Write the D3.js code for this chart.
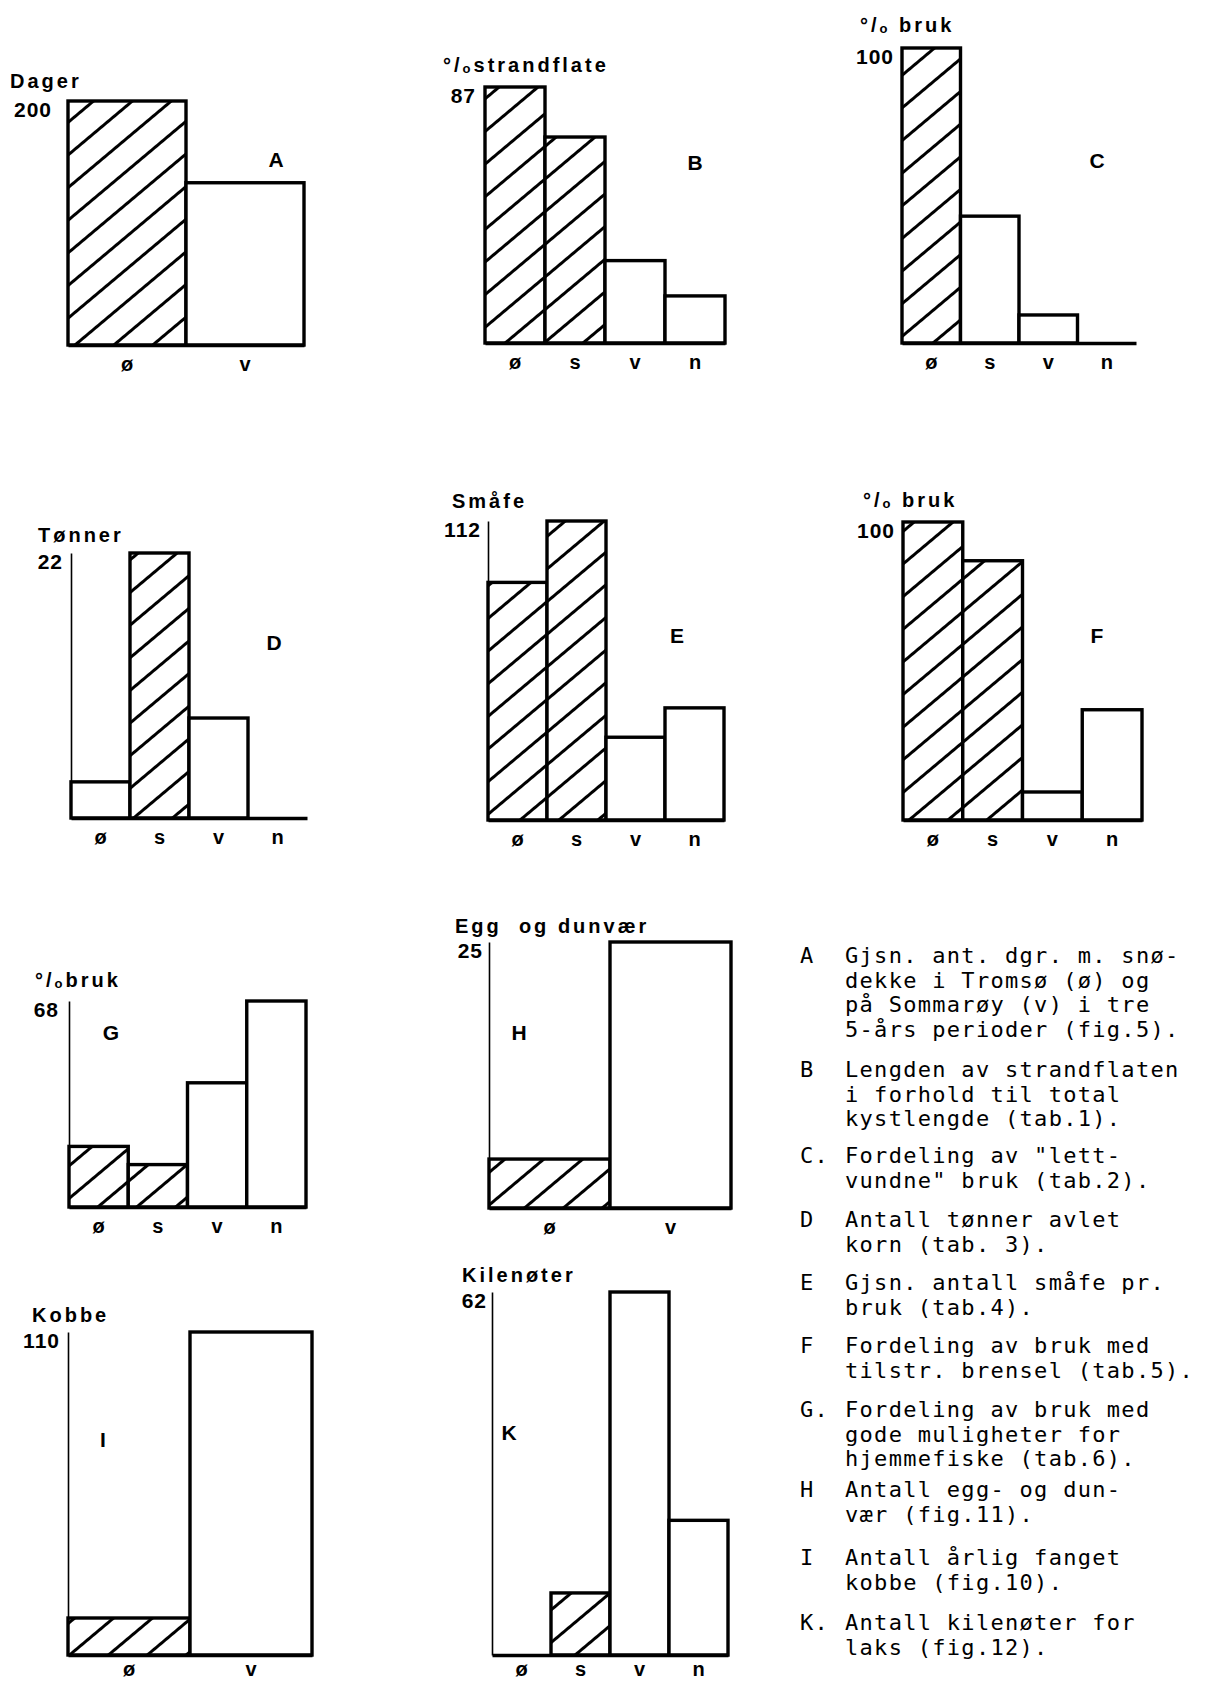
<!DOCTYPE html>
<html><head><meta charset="utf-8">
<script src="https://cdn.jsdelivr.net/npm/d3@7"></script>
<style>
body{margin:0;background:#fff;}
svg{display:block;background:#fff;}
</style></head><body>
<svg id="c" width="1208" height="1681"></svg>
<script>
// ---------- DATA ----------
const panelIds = ["A","B","C","D","E","F","G","H","I","K"];
const cats2 = ["ø","v"];
const cats4 = ["ø","s","v","n"];
const valuesA = [200, 133];
const valuesB = [87, 70, 28, 16];
const valuesC = [100, 43, 9.5, 0];
const valuesD = [3, 22, 8.3, 0];
const valuesE = [89, 112, 31, 42];
const valuesF = [100, 87, 9.4, 37];
const valuesG = [20, 14, 41, 68];
const valuesH = [4.6, 25];
const valuesI = [12.6, 110];
const valuesK = [0, 10.6, 62, 23];
const hatchA = [true, false];
const hatchB = [true, true, false, false];
const hatchC = [true, false, false, false];
const hatchD = [false, true, false, false];
const hatchE = [true, true, false, false];
const hatchF = [true, true, false, false];
const hatchG = [true, true, false, false];
const hatchH = [true, false];
const hatchI = [true, false];
const hatchK = [false, true, false, false];
const tickMax = [200, 87, 100, 22, 112, 100, 68, 25, 110, 62];
const yTitles = ["Dager", "°/ostrandflate", "°/o bruk", "Tønner", "Småfe", "°/o bruk", "°/obruk", "Egg\u00a0\u00a0og dunvær", "Kobbe", "Kilenøter"];

const captionLetters = ["A","B","C.","D","E","F","G.","H","I","K."];
const captionTexts = [
  ["Gjsn. ant. dgr. m. snø-","dekke i Tromsø (ø) og","på Sommarøy (v) i tre","5-års perioder (fig.5)."],
  ["Lengden av strandflaten","i forhold til total","kystlengde (tab.1)."],
  ["Fordeling av \"lett-","vundne\" bruk (tab.2)."],
  ["Antall tønner avlet","korn (tab. 3)."],
  ["Gjsn. antall småfe pr.","bruk (tab.4)."],
  ["Fordeling av bruk med","tilstr. brensel (tab.5)."],
  ["Fordeling av bruk med","gode muligheter for","hjemmefiske (tab.6)."],
  ["Antall egg- og dun-","vær (fig.11)."],
  ["Antall årlig fanget","kobbe (fig.10)."],
  ["Antall kilenøter for","laks (fig.12)."]
];

// ---------- LAYOUT ----------
const layout = {
  A:{x0:68,  x1:304,  top:101,  base:345,  title:[10,88],    letter:[276,167],  pad:16},
  B:{x0:485, x1:725,  top:87,   base:343,  title:[443,72],   letter:[695,170],  pad:9},
  C:{x0:902, x1:1136, top:48,   base:343,  title:[860,32],   letter:[1097,168], pad:8},
  D:{x0:71,  x1:307,  top:553,  base:818,  title:[38,542],   letter:[274,650],  pad:8},
  E:{x0:488, x1:724,  top:521,  base:820,  title:[452,508],  letter:[677,643],  pad:7},
  F:{x0:903, x1:1142, top:522,  base:820,  title:[863,507],  letter:[1097,643], pad:8},
  G:{x0:69,  x1:306,  top:1001, base:1207, title:[35,987],   letter:[111,1040], pad:10},
  H:{x0:489, x1:731,  top:942,  base:1208, title:[455,933],  letter:[519,1040], pad:6},
  I:{x0:68,  x1:312,  top:1332, base:1655, title:[32,1322],  letter:[103,1447], pad:8},
  K:{x0:492, x1:728,  top:1292, base:1655, title:[462,1282], letter:[509,1440], pad:5}
};
const captionBlockY = [963,1077,1163,1227,1290,1353,1417,1497,1565,1630];
const captionLineH = 24.5;

const panels = [
  {cats:cats2, values:valuesA, hatch:hatchA},
  {cats:cats4, values:valuesB, hatch:hatchB},
  {cats:cats4, values:valuesC, hatch:hatchC},
  {cats:cats4, values:valuesD, hatch:hatchD},
  {cats:cats4, values:valuesE, hatch:hatchE},
  {cats:cats4, values:valuesF, hatch:hatchF},
  {cats:cats4, values:valuesG, hatch:hatchG},
  {cats:cats2, values:valuesH, hatch:hatchH},
  {cats:cats2, values:valuesI, hatch:hatchI},
  {cats:cats4, values:valuesK, hatch:hatchK}
].map((p,i)=>Object.assign(p,{id:panelIds[i], max:tickMax[i], title:yTitles[i]}));

// ---------- DRAW ----------
const svg = d3.select("#c");
const FONT = "'Liberation Sans', Arial, sans-serif";
const defs = svg.append("defs");
const pat = defs.append("pattern").attr("id","hatch")
  .attr("patternUnits","userSpaceOnUse").attr("width",25).attr("height",25)
  .attr("patternTransform","rotate(-40)");
pat.append("rect").attr("width",25).attr("height",25).attr("fill","#fff");
pat.append("line").attr("x1",0).attr("x2",25).attr("y1",12.5).attr("y2",12.5)
  .attr("stroke","#000").attr("stroke-width",3);

panels.forEach(p=>{
  const L = layout[p.id];
  const x = d3.scaleBand().domain(p.cats).range([L.x0, L.x1]).padding(0);
  const y = d3.scaleLinear().domain([0, p.max]).range([L.base, L.top]);
  const g = svg.append("g");

  // left axis (thin) with single top tick label
  const ay = g.append("g").attr("transform",`translate(${L.x0},0)`)
    .call(d3.axisLeft(y).tickValues([p.max]).tickSize(0).tickSizeOuter(0).tickPadding(L.pad));
  ay.select(".domain").attr("stroke","#000").attr("stroke-width",1.6);
  ay.selectAll(".tick text").attr("dy","0.74em")
    .attr("font-family",FONT).attr("font-size",21).attr("font-weight","bold")
    .attr("fill","#000").attr("letter-spacing",1);

  // bars
  const rows = p.values.map((v,i)=>({c:p.cats[i], v, h:p.hatch[i]})).filter(d=>d.v>0);
  g.selectAll("rect.bar").data(rows).join("rect").attr("class","bar")
    .attr("x",d=>x(d.c)).attr("y",d=>y(d.v))
    .attr("width",x.bandwidth()).attr("height",d=>y(0)-y(d.v))
    .attr("fill",d=>d.h?"url(#hatch)":"#fff")
    .attr("stroke","#000").attr("stroke-width",3.4).attr("stroke-linejoin","miter");

  // baseline + category labels
  const ax = g.append("g").attr("transform",`translate(0,${L.base})`)
    .call(d3.axisBottom(x).tickSize(0).tickSizeOuter(0));
  ax.select(".domain").attr("stroke","#000").attr("stroke-width",3.5);
  ax.selectAll(".tick text").attr("y",Math.min(26, 1676 - L.base)).attr("dy",0)
    .attr("font-family",FONT).attr("font-size",20).attr("font-weight","bold").attr("fill","#000");

  // title
  const t = g.append("text").attr("x",L.title[0]).attr("y",L.title[1])
    .attr("font-family",FONT).attr("font-size",20).attr("font-weight","bold")
    .attr("letter-spacing",3).attr("fill","#000");
  if (p.title.startsWith("°/o")) {
    t.append("tspan").text("°/");
    t.append("tspan").attr("font-size",13).attr("dy",1).text("o");
    t.append("tspan").attr("dy",-1).text(p.title.slice(3));
  } else {
    t.text(p.title);
  }

  // panel letter
  g.append("text").attr("x",L.letter[0]).attr("y",L.letter[1]).attr("text-anchor","middle")
    .attr("font-family",FONT).attr("font-size",21).attr("font-weight","bold").attr("fill","#000")
    .text(p.id);
});

// caption
const CFONT = "'DejaVu Sans Mono', 'Liberation Mono', monospace";
const cap = svg.append("g").attr("font-family",CFONT).attr("font-size",22)
  .attr("letter-spacing",1.3).attr("fill","#000");
captionTexts.forEach((lines,i)=>{
  cap.append("text").attr("x",800).attr("y",captionBlockY[i]).text(captionLetters[i]);
  lines.forEach((ln,j)=>{
    cap.append("text").attr("x",845).attr("y",captionBlockY[i]+j*captionLineH).text(ln);
  });
});
</script>
</body></html>
